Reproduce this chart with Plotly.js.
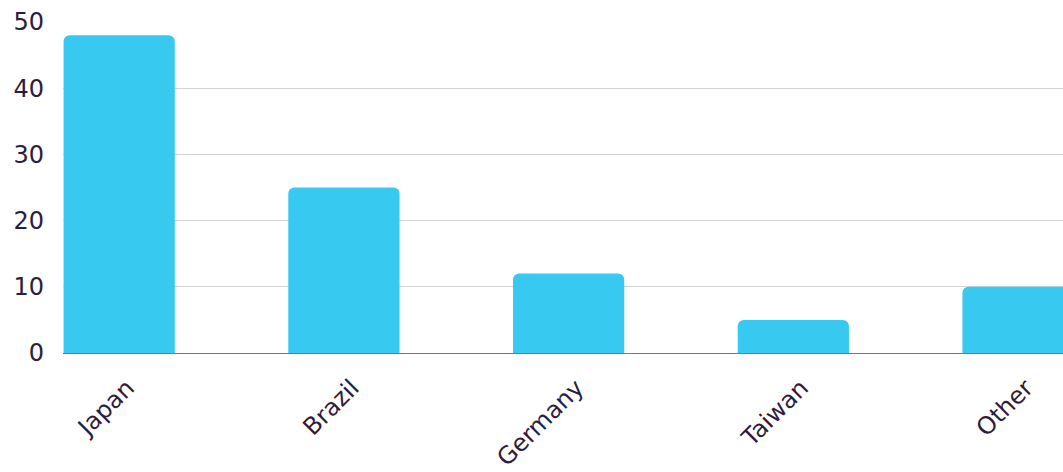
<!DOCTYPE html>
<html>
<head>
<meta charset="utf-8">
<script src="https://cdn.plot.ly/plotly-3.0.1.min.js"></script>
<style>html,body{margin:0;padding:0;background:#fff;}#chart{width:1063px;height:472px;}</style>
</head>
<body>
<div id="chart"></div>
<script>
const categories = ["Japan", "Brazil", "Germany", "Taiwan", "Other"];
const values = [48, 25, 12, 5, 10];
const yTicks = [0, 10, 20, 30, 40, 50];

const textColor = "#2b1d3f";
Plotly.newPlot("chart", [{
  type: "bar",
  x: categories,
  y: values,
  marker: {color: "#38C9F0", cornerradius: 6},
  hoverinfo: "none"
}], {
  width: 1063, height: 472,
  margin: {l: 63, r: 0, t: 22, b: 119},
  paper_bgcolor: "#fff", plot_bgcolor: "#fff",
  bargap: 0.505,
  font: {family: "'DejaVu Sans', Inter, sans-serif", size: 24, color: textColor},
  xaxis: {
    range: [-0.25, 4.2],
    tickangle: -45,
    showgrid: false,
    showline: false,
    ticks: "",
    ticklabelstandoff: 15,
    ticklabelshift: 8,
    tickfont: {size: 24, color: textColor}
  },
  yaxis: {
    range: [0, 50],
    tickvals: yTicks,
    showgrid: true,
    gridcolor: "#d3d3d3",
    gridwidth: 1,
    zeroline: true,
    zerolinecolor: "#7d7488",
    zerolinewidth: 1,
    ticks: "",
    ticklabelstandoff: 18,
    tickfont: {size: 24, color: textColor}
  },
  showlegend: false
}, {displayModeBar: false, staticPlot: true});
</script>
</body>
</html>
